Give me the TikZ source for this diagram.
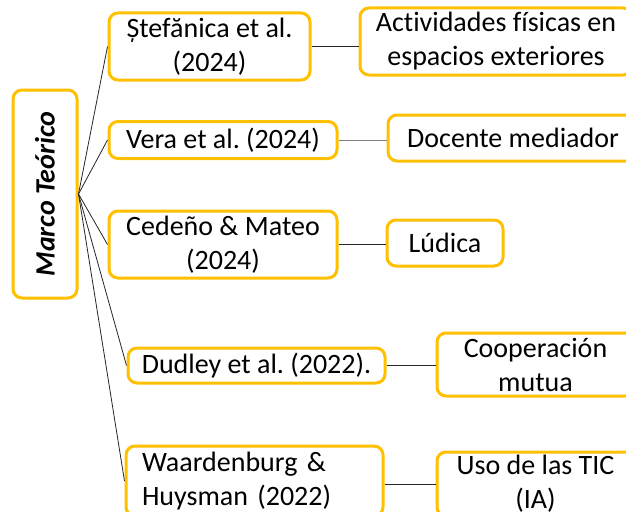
\documentclass[tikz,border=0pt]{standalone}
\usepackage{fontspec}
\setmainfont{Carlito}[Ligatures=NoCommon]
\frenchspacing
\definecolor{boxgold}{HTML}{FFC000}
\tikzset{
  box/.style={draw=boxgold, line width=3pt, rounded corners=9pt, align=center,
    inner sep=2pt, fill=white, font=\fontsize{28}{34}\selectfont},
  link/.style={black!85, line width=0.8pt}
}

\begin{document}
\begin{tikzpicture}[x=1pt,y=-1pt]
\useasboundingbox (0,0) rectangle (626,511);
\clip (0,0) rectangle (626,511);
% main topic
\node[box, rotate=90, minimum width=208pt, minimum height=64pt,
  font=\fontsize{28}{34}\selectfont\bfseries\itshape] (marco) at (45,194) {Marco Teórico};
% authors
\node[box, minimum width=201pt, minimum height=67pt] (stef)   at (209.5,46.5) {Ștefănica et al.\\(2024)};
\node[box, minimum width=228pt, minimum height=37pt] (vera)   at (223,140)    {Vera et al. (2024)};
\node[box, minimum width=228pt, minimum height=67pt] (cedeno) at (223,244.5)  {Cedeño \& Mateo\\(2024)};
\node[box, minimum width=257pt, minimum height=35pt] (dudley) at (256.5,365.5) {Dudley et al. (2022).};
\node[box, text width=225pt, inner xsep=16pt, align=left, minimum height=70pt] (waard) at (254.5,481) {Waardenburg \&\\Huysman (2022)};
% topics
\node[box, minimum width=272pt, minimum height=67pt] (act)  at (496,41.5)  {Actividades físicas en\\espacios exteriores};
\node[box, minimum width=250pt, minimum height=46pt] (doc)  at (513,138)   {Docente mediador};
\node[box, minimum width=116pt, minimum height=46pt] (lud)  at (445,243)   {Lúdica};
\node[box, minimum width=197pt, minimum height=63pt] (coop) at (535.5,364.5) {Cooperación\\mutua};
\node[box, minimum width=197pt, minimum height=64pt] (uso)  at (535.5,484) {Uso de las TIC\\(IA)};
% branches
\foreach \n in {stef,vera,cedeno,dudley,waard}
  \draw[link] (marco.south) -- (\n.west);
\draw[link] (stef.east) -- (stef.east -| act.west);
\draw[link, gray] (vera.east) -- (vera.east -| doc.west);
\draw[link] (cedeno.east) -- (cedeno.east -| lud.west);
\draw[link] (dudley.east) -- (dudley.east -| coop.west);
\draw[link] (waard.east |- uso.west) -- (uso.west);
\end{tikzpicture}
\end{document}
